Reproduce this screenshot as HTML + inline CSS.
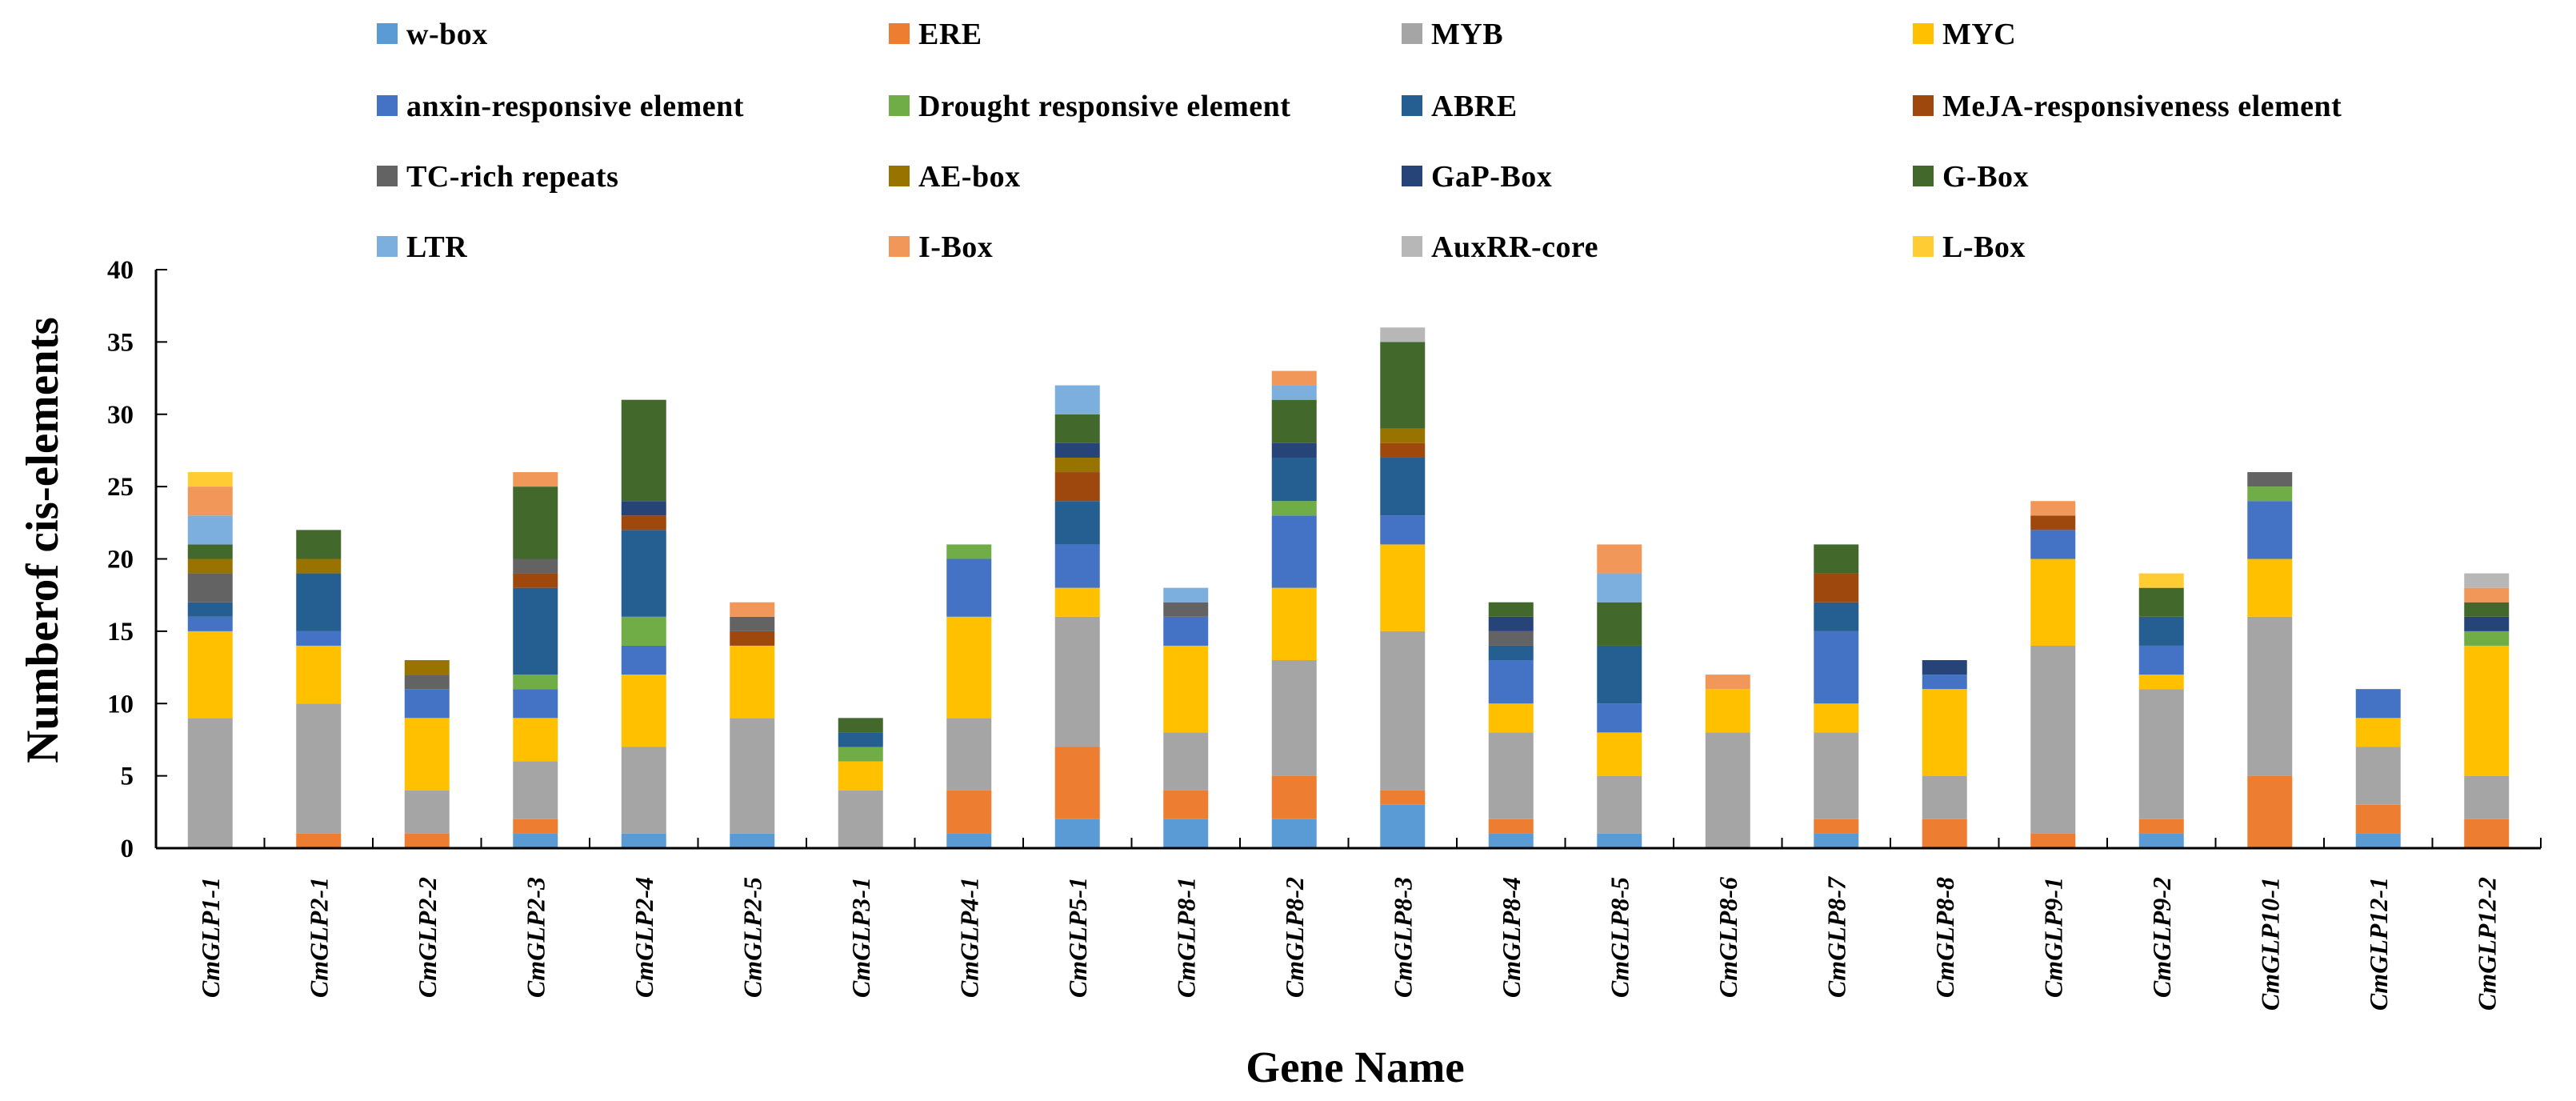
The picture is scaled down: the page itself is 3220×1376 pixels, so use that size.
<!DOCTYPE html>
<html><head><meta charset="utf-8"><style>
html,body{margin:0;padding:0;background:#fff;}
svg{display:block;font-family:"Liberation Serif",serif;font-weight:bold;}
</style></head><body>
<svg id="chart" width="3220" height="1376" viewBox="0 0 3220 1376" xmlns="http://www.w3.org/2000/svg">
<rect width="3220" height="1376" fill="#fff"/>
<g id="legend"></g>
<g id="bars"></g>
<g id="axes"></g>
<text transform="translate(72,675) rotate(-90)" text-anchor="middle" font-size="57">Numberof cis-elements</text>
<text x="1694" y="1352" text-anchor="middle" font-size="55">Gene Name</text>
</svg>
<script>
const categories = ["CmGLP1-1","CmGLP2-1","CmGLP2-2","CmGLP2-3","CmGLP2-4","CmGLP2-5","CmGLP3-1","CmGLP4-1","CmGLP5-1","CmGLP8-1","CmGLP8-2","CmGLP8-3","CmGLP8-4","CmGLP8-5","CmGLP8-6","CmGLP8-7","CmGLP8-8","CmGLP9-1","CmGLP9-2","CmGLP10-1","CmGLP12-1","CmGLP12-2"];
const seriesNames = ["w-box","ERE","MYB","MYC","anxin-responsive element","Drought responsive element","ABRE","MeJA-responsiveness element","TC-rich repeats","AE-box","GaP-Box","G-Box","LTR","I-Box","AuxRR-core","L-Box"];
const seriesColors = ["#5B9BD5","#ED7D31","#A5A5A5","#FFC000","#4472C4","#70AD47","#255E91","#9E480E","#636363","#997300","#264478","#43682B","#7CAFDD","#F1975A","#B7B7B7","#FFCD33"];
const wbox    = [0,0,0,1,1,1,0,1,2,2,2,3,1,1,0,1,0,0,1,0,1,0];
const ere     = [0,1,1,1,0,0,0,3,5,2,3,1,1,0,0,1,2,1,1,5,2,2];
const myb     = [9,9,3,4,6,8,4,5,9,4,8,11,6,4,8,6,3,13,9,11,4,3];
const myc     = [6,4,5,3,5,5,2,7,2,6,5,6,2,3,3,2,6,6,1,4,2,9];
const anxin   = [1,1,2,2,2,0,0,4,3,2,5,2,3,2,0,5,1,2,2,4,2,0];
const drought = [0,0,0,1,2,0,1,1,0,0,1,0,0,0,0,0,0,0,0,1,0,1];
const abre    = [1,4,0,6,6,0,1,0,3,0,3,4,1,4,0,2,0,0,2,0,0,0];
const meja    = [0,0,0,1,1,1,0,0,2,0,0,1,0,0,0,2,0,1,0,0,0,0];
const tcrich  = [2,0,1,1,0,1,0,0,0,1,0,0,1,0,0,0,0,0,0,1,0,0];
const aebox   = [1,1,1,0,0,0,0,0,1,0,0,1,0,0,0,0,0,0,0,0,0,0];
const gapbox  = [0,0,0,0,1,0,0,0,1,0,1,0,1,0,0,0,1,0,0,0,0,1];
const gbox    = [1,2,0,5,7,0,1,0,2,0,3,6,1,3,0,2,0,0,2,0,0,1];
const ltr     = [2,0,0,0,0,0,0,0,2,1,1,0,0,2,0,0,0,0,0,0,0,0];
const ibox    = [2,0,0,1,0,1,0,0,0,0,1,0,0,2,1,0,0,1,0,0,0,1];
const auxrr   = [0,0,0,0,0,0,0,0,0,0,0,1,0,0,0,0,0,0,0,0,0,1];
const lbox    = [1,0,0,0,0,0,0,0,0,0,0,0,0,0,0,0,0,0,1,0,0,0];
const seriesValues = [wbox,ere,myb,myc,anxin,drought,abre,meja,tcrich,aebox,gapbox,gbox,ltr,ibox,auxrr,lbox];
const yTicks = [0,5,10,15,20,25,30,35,40];

const NS = "http://www.w3.org/2000/svg";
const X0 = 195, X1 = 3176, Y0 = 1060, Y1 = 337, YMAX = 40;
const band = (X1 - X0) / categories.length;
const barW = 56;
function xCenter(i){ return X0 + band * (i + 0.5); }
function yScale(v){ return Y0 - (Y0 - Y1) * v / YMAX; }
function mk(tag, attrs, parent){ const e = document.createElementNS(NS, tag); for (const k in attrs) e.setAttribute(k, attrs[k]); parent.appendChild(e); return e; }

const barsG = document.getElementById('bars');
categories.forEach((c, i) => {
  let cum = 0;
  seriesValues.forEach((vals, s) => {
    const v = vals[i];
    if (!v) return;
    const r = mk('rect', {x: xCenter(i) - barW/2, y: yScale(cum + v), width: barW, height: yScale(cum) - yScale(cum + v), fill: seriesColors[s]}, barsG);
    
    
    cum += v;
  });
});

const axG = document.getElementById('axes');
const ya = mk('line', {x1: X0, y1: Y1, x2: X0, y2: Y0, stroke: '#000', 'stroke-width': 3}, axG);


const xa = mk('line', {x1: X0, y1: Y0, x2: X1, y2: Y0, stroke: '#000', 'stroke-width': 3}, axG);


yTicks.forEach(t => {
  const tk = mk('line', {x1: X0, y1: yScale(t), x2: X0 + 14, y2: yScale(t), stroke: '#000', 'stroke-width': 2}, axG);
  
  
  const lb = mk('text', {x: 167, y: yScale(t) + 11, 'text-anchor': 'end', 'font-size': 33}, axG);
  lb.textContent = t;
  
  
});
for (let i = 0; i <= categories.length; i++) {
  const x = X0 + band * i;
  const tk = mk('line', {x1: x, y1: Y0, x2: x, y2: Y0 - 13, stroke: '#000', 'stroke-width': 2}, axG);
  
  
}
categories.forEach((c, i) => {
  const x = xCenter(i) + 11;
  const lb = mk('text', {transform: `translate(${x},1096) rotate(-90)`, 'text-anchor': 'end', 'font-size': 32, 'font-style': 'italic'}, axG);
  lb.textContent = c;
  
  
});

const lg = document.getElementById('legend');
const colX = [471, 1111, 1752, 2391], rowY = [42, 132, 220, 308];
seriesNames.forEach((n, s) => {
  const cx = colX[s % 4], cy = rowY[Math.floor(s / 4)];
  const g = mk('g', {}, lg);
  
  
  const sw = mk('rect', {x: cx, y: cy - 13, width: 26, height: 26, fill: seriesColors[s]}, g);
  
  
  const t = mk('text', {x: cx + 37, y: cy + 13, 'font-size': 38, 'letter-spacing': 0.5}, g);
  t.textContent = n;
  
  
});
</script>
</body></html>
